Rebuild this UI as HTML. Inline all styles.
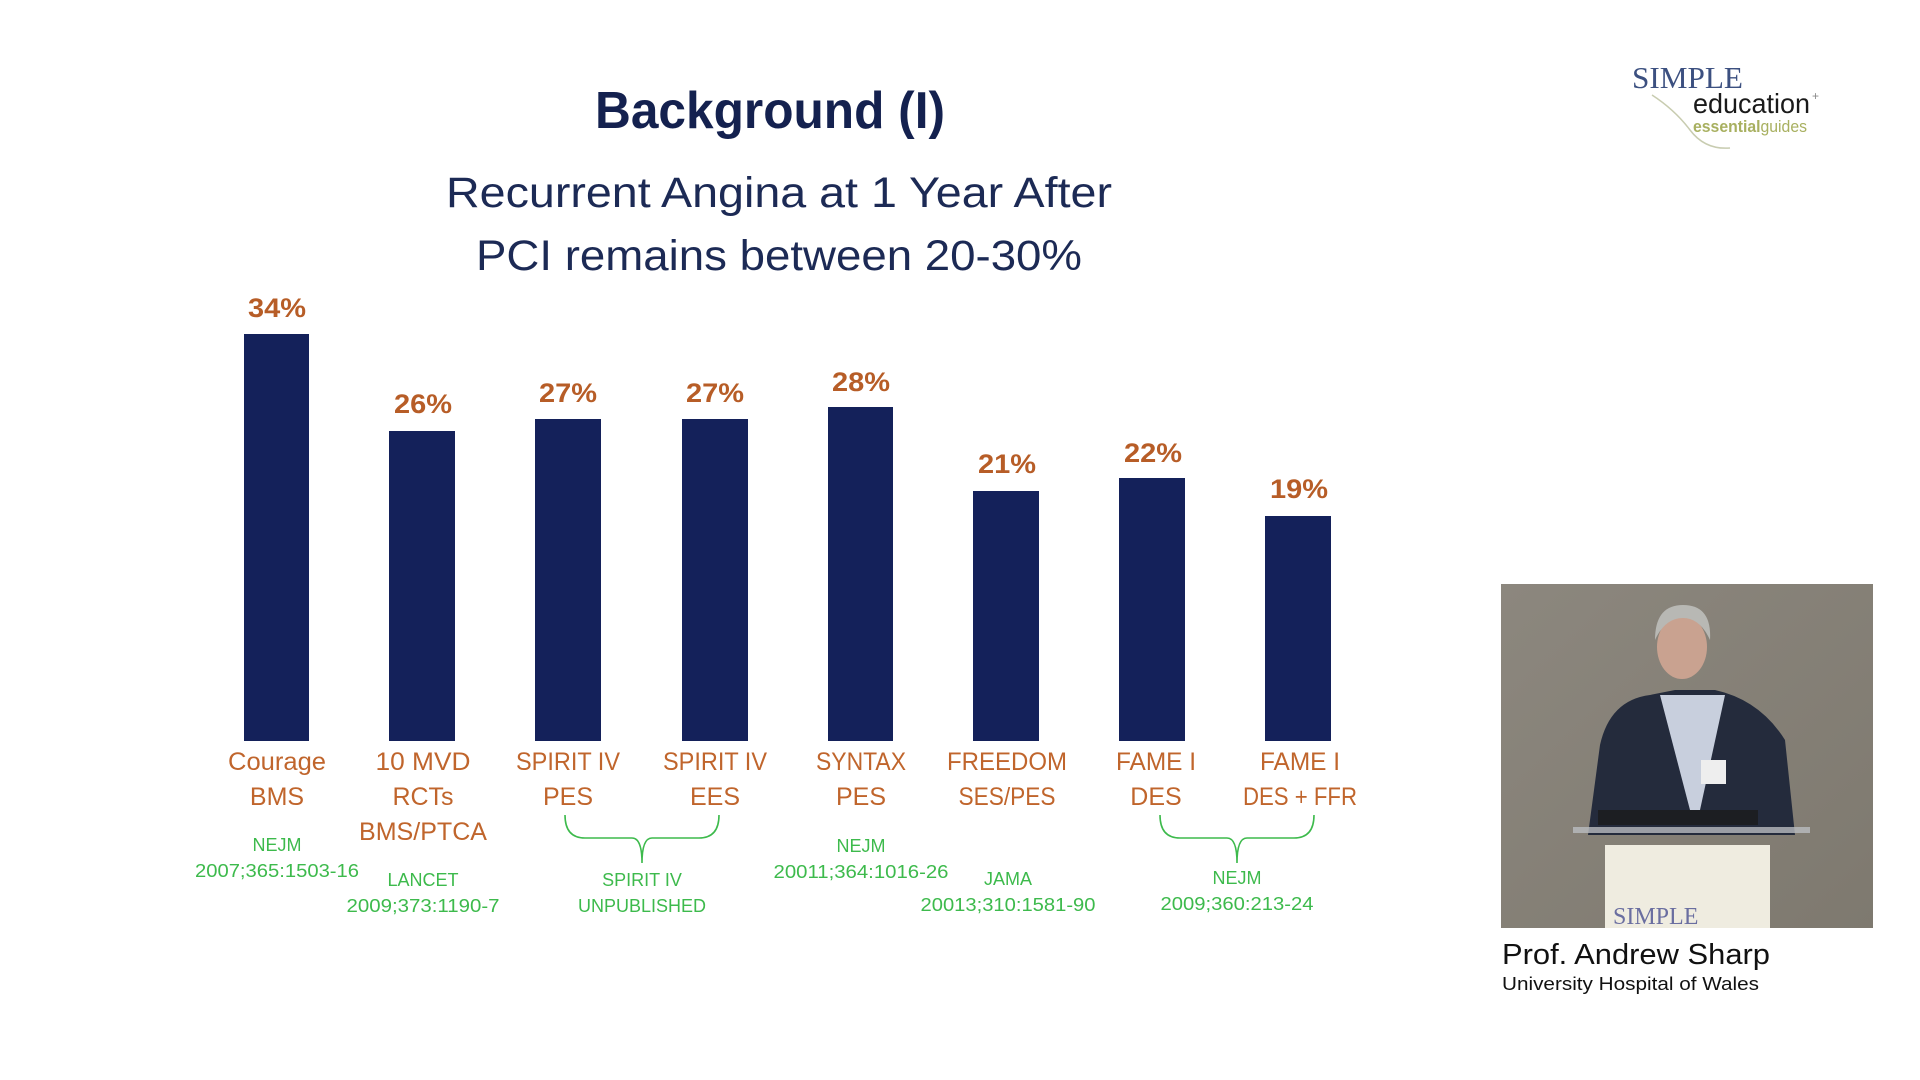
<!DOCTYPE html>
<html><head><meta charset="utf-8"><style>html,body{margin:0;padding:0;background:#fff}svg{display:block}</style></head>
<body>
<svg width="1920" height="1080" viewBox="0 0 1920 1080" xmlns="http://www.w3.org/2000/svg">
<rect width="1920" height="1080" fill="#fff"/>
<g font-family="Liberation Sans, sans-serif">
<text x="770" y="128" text-anchor="middle" font-size="52" font-weight="bold" fill="#14214f" textLength="350" lengthAdjust="spacingAndGlyphs">Background (I)</text>
<text x="779" y="207" text-anchor="middle" font-size="43" fill="#1c2a55" textLength="666" lengthAdjust="spacingAndGlyphs">Recurrent Angina at 1 Year After</text>
<text x="779" y="270" text-anchor="middle" font-size="43" fill="#1c2a55" textLength="606" lengthAdjust="spacingAndGlyphs">PCI remains between 20-30%</text>

<g fill="#14215a">
<rect x="244" y="334" width="65" height="407"/>
<rect x="389" y="431" width="66" height="310"/>
<rect x="535" y="419" width="66" height="322"/>
<rect x="682" y="419" width="66" height="322"/>
<rect x="828" y="407" width="65" height="334"/>
<rect x="973" y="491" width="66" height="250"/>
<rect x="1119" y="478" width="66" height="263"/>
<rect x="1265" y="516" width="66" height="225"/>
</g>
<g fill="#b75d27" font-size="27" font-weight="bold" text-anchor="middle">
<text x="277" y="317" textLength="58" lengthAdjust="spacingAndGlyphs">34%</text>
<text x="423" y="413" textLength="58" lengthAdjust="spacingAndGlyphs">26%</text>
<text x="568" y="402" textLength="58" lengthAdjust="spacingAndGlyphs">27%</text>
<text x="715" y="402" textLength="58" lengthAdjust="spacingAndGlyphs">27%</text>
<text x="861" y="391" textLength="58" lengthAdjust="spacingAndGlyphs">28%</text>
<text x="1007" y="473" textLength="58" lengthAdjust="spacingAndGlyphs">21%</text>
<text x="1153" y="462" textLength="58" lengthAdjust="spacingAndGlyphs">22%</text>
<text x="1299" y="498" textLength="58" lengthAdjust="spacingAndGlyphs">19%</text>
</g>
<g fill="#c0652c" font-size="25" text-anchor="middle">
<text x="277" y="770" textLength="98" lengthAdjust="spacingAndGlyphs">Courage</text>
<text x="277" y="805">BMS</text>
<text x="423" y="770" textLength="95" lengthAdjust="spacingAndGlyphs">10 MVD</text>
<text x="423" y="805">RCTs</text>
<text x="423" y="840" textLength="128" lengthAdjust="spacingAndGlyphs">BMS/PTCA</text>
<text x="568" y="770" textLength="104" lengthAdjust="spacingAndGlyphs">SPIRIT IV</text>
<text x="568" y="805">PES</text>
<text x="715" y="770" textLength="104" lengthAdjust="spacingAndGlyphs">SPIRIT IV</text>
<text x="715" y="805">EES</text>
<text x="861" y="770" textLength="90" lengthAdjust="spacingAndGlyphs">SYNTAX</text>
<text x="861" y="805">PES</text>
<text x="1007" y="770" textLength="120" lengthAdjust="spacingAndGlyphs">FREEDOM</text>
<text x="1007" y="805" textLength="97" lengthAdjust="spacingAndGlyphs">SES/PES</text>
<text x="1156" y="770" textLength="80" lengthAdjust="spacingAndGlyphs">FAME I</text>
<text x="1156" y="805">DES</text>
<text x="1300" y="770" textLength="80" lengthAdjust="spacingAndGlyphs">FAME I</text>
<text x="1300" y="805" textLength="114" lengthAdjust="spacingAndGlyphs">DES + FFR</text>
</g>
<g fill="#3dba4c" font-size="18" text-anchor="middle">
<text x="277" y="851">NEJM</text>
<text x="277" y="877" textLength="164" lengthAdjust="spacingAndGlyphs">2007;365:1503-16</text>
<text x="423" y="886">LANCET</text>
<text x="423" y="912" textLength="153" lengthAdjust="spacingAndGlyphs">2009;373:1190-7</text>
<text x="642" y="886">SPIRIT IV</text>
<text x="642" y="912" textLength="128" lengthAdjust="spacingAndGlyphs">UNPUBLISHED</text>
<text x="861" y="852">NEJM</text>
<text x="861" y="878" textLength="175" lengthAdjust="spacingAndGlyphs">20011;364:1016-26</text>
<text x="1008" y="885">JAMA</text>
<text x="1008" y="911" textLength="175" lengthAdjust="spacingAndGlyphs">20013;310:1581-90</text>
<text x="1237" y="884">NEJM</text>
<text x="1237" y="910" textLength="153" lengthAdjust="spacingAndGlyphs">2009;360:213-24</text>
</g>
<g fill="none" stroke="#3dba4c" stroke-width="1.6">
<path d="M565 815 Q565 838 585 838 L632 838 Q642 838 642 863 Q642 838 652 838 L699 838 Q719 838 719 815"/>
<path d="M1160 815 Q1160 838 1180 838 L1227 838 Q1237 838 1237 863 Q1237 838 1247 838 L1294 838 Q1314 838 1314 815"/>
</g>

<text x="1632" y="88" font-family="Liberation Serif, serif" font-size="31" fill="#3c5080" textLength="111" lengthAdjust="spacingAndGlyphs">SIMPLE</text>
<text x="1693" y="113" font-size="28" fill="#1a1a1a" textLength="117" lengthAdjust="spacingAndGlyphs">education</text>
<text x="1812" y="100" font-size="12" fill="#888">+</text>
<text x="1693" y="132" font-size="17" fill="#a8b060" textLength="114" lengthAdjust="spacingAndGlyphs"><tspan font-weight="bold">essential</tspan>guides</text>
<path d="M1652 95 Q1675 110 1690 130 Q1705 150 1730 148" fill="none" stroke="#c8ccb0" stroke-width="1.5"/>

<defs>
<linearGradient id="bg" x1="0" y1="0" x2="1" y2="1"><stop offset="0" stop-color="#8c877e"/><stop offset="1" stop-color="#7e796f"/></linearGradient>
</defs>
<rect x="1501" y="584" width="372" height="344" fill="url(#bg)"/>
<path d="M1588 835 L1600 745 Q1610 700 1650 695 L1675 690 L1715 690 Q1760 700 1785 740 L1795 835 Z" fill="#242b3c"/>
<path d="M1660 695 L1690 810 L1700 810 L1725 695 Z" fill="#c8cfdd"/>
<ellipse cx="1682" cy="647" rx="25" ry="32" fill="#c9a290"/>
<path d="M1655 640 Q1655 605 1683 605 Q1712 605 1710 640 Q1700 618 1683 618 Q1665 618 1655 640 Z" fill="#b8b8b4"/>
<rect x="1598" y="810" width="160" height="15" fill="#1c1e22"/>
<path d="M1573 827 L1810 827 L1810 833 L1573 833 Z" fill="#b9bcbf" opacity="0.8"/>
<rect x="1605" y="845" width="165" height="83" fill="#efece0"/>
<text x="1613" y="924" font-family="Liberation Serif, serif" font-size="24" fill="#6a6ea0">SIMPLE</text>
<rect x="1701" y="760" width="25" height="24" fill="#eee"/>

<text x="1502" y="964" font-size="29" fill="#111" textLength="268" lengthAdjust="spacingAndGlyphs">Prof. Andrew Sharp</text>
<text x="1502" y="990" font-size="18" fill="#111" textLength="257" lengthAdjust="spacingAndGlyphs">University Hospital of Wales</text>
</g>
</svg>
</body></html>
